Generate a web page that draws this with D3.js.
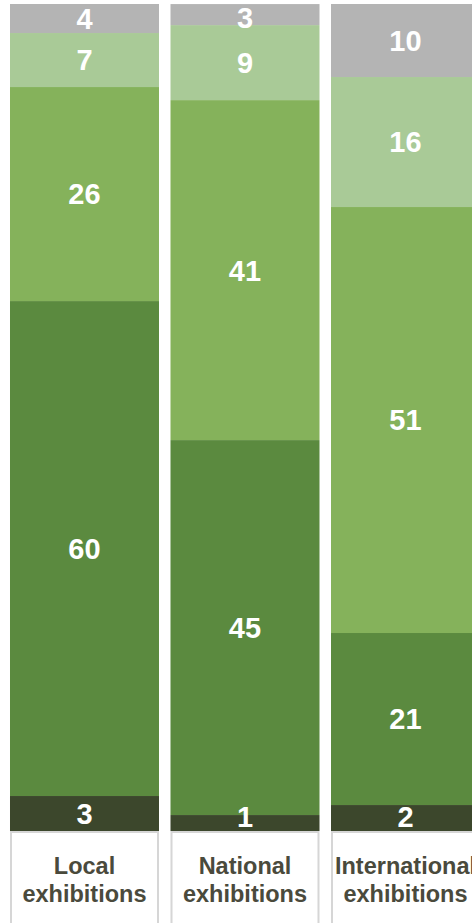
<!DOCTYPE html>
<html>
<head>
<meta charset="utf-8">
<script src="https://cdn.jsdelivr.net/npm/d3@7.9.0/dist/d3.min.js"></script>
<style>
  html, body { margin: 0; padding: 0; background: #fff; }
  svg { display: block; font-family: "Liberation Sans", Arial, sans-serif; }
</style>
</head>
<body>
<div id="chart"></div>
<script>
// categories (bottom label boxes)
const categories = ['Local exhibitions', 'National exhibitions', 'International exhibitions'];
const categoryLines = [['Local', 'exhibitions'], ['National', 'exhibitions'], ['International', 'exhibitions']];

// stack order, bottom -> top
const seriesKeys = ['level1', 'level2', 'level3', 'level4', 'level5'];
const seriesColors = ['#3c472c', '#5b8a3f', '#85b25b', '#a9ca97', '#b4b4b4'];

// segment sizes (share of 100)
const localValues = [4.23, 59.85, 25.88, 6.53, 3.51];
const nationalValues = [1.93, 45.34, 41.11, 9.07, 2.54];
const internationalValues = [3.14, 20.80, 51.51, 15.72, 8.83];

// printed labels
const localLabels = [3, 60, 26, 7, 4];
const nationalLabels = [1, 45, 41, 9, 3];
const internationalLabels = [2, 21, 51, 16, 10];

const allValues = [localValues, nationalValues, internationalValues];
const allLabels = [localLabels, nationalLabels, internationalLabels];

const width = 472;
const height = 923;
const margin = { top: 4, bottom: 92 };

const table = categories.map((c, i) => {
  const row = { category: c, idx: i };
  seriesKeys.forEach((k, j) => { row[k] = allValues[i][j]; });
  return row;
});

const stack = d3.stack().keys(seriesKeys);
const series = stack(table);

const x = d3.scaleBand()
  .domain(categories)
  .range([4.25, 485.75])
  .paddingInner(0.0717)
  .paddingOuter(0.0358);

const y = d3.scaleLinear()
  .domain([0, 100])
  .range([height - margin.bottom, margin.top]);

const color = d3.scaleOrdinal().domain(seriesKeys).range(seriesColors);

const svg = d3.select('#chart')
  .append('svg')
  .attr('width', width)
  .attr('height', height)
  .attr('viewBox', `0 0 ${width} ${height}`);

// bars
const layers = svg.append('g')
  .selectAll('g')
  .data(series)
  .join('g')
  .attr('fill', (d) => color(d.key));

layers.selectAll('rect')
  .data((d) => d)
  .join('rect')
  .attr('x', (d) => x(d.data.category))
  .attr('y', (d) => y(d[1]))
  .attr('width', x.bandwidth())
  .attr('height', (d) => y(d[0]) - y(d[1]));

// value labels
const labelG = svg.append('g')
  .attr('fill', '#fff')
  .attr('font-weight', 'bold')
  .attr('font-size', 29)
  .attr('text-anchor', 'middle');

series.forEach((s, j) => {
  labelG.selectAll(null)
    .data(s)
    .join('text')
    .attr('x', (d) => x(d.data.category) + x.bandwidth() / 2)
    .attr('y', (d) => {
      const mid = (y(d[0]) + y(d[1])) / 2;
      const yTop = y(100) + 14;
      const yBot = y(0) - 14;
      return Math.max(yTop, Math.min(yBot, mid));
    })
    .attr('dy', '0.36em')
    .text((d) => allLabels[d.data.idx][j]);
});

// category boxes
const boxes = svg.append('g')
  .selectAll('g')
  .data(categories)
  .join('g')
  .attr('transform', (d) => `translate(${x(d)}, ${y(0)})`);

boxes.append('rect')
  .attr('x', 1)
  .attr('y', 1)
  .attr('width', x.bandwidth() - 2)
  .attr('height', margin.bottom + 10)
  .attr('fill', '#fff')
  .attr('stroke', '#d6d6d6')
  .attr('stroke-width', 2);

boxes.append('text')
  .attr('text-anchor', 'middle')
  .attr('fill', '#4a4a3c')
  .attr('font-weight', 'bold')
  .attr('font-size', 23.5)
  .selectAll('tspan')
  .data((d) => categoryLines[categories.indexOf(d)])
  .join('tspan')
  .attr('x', x.bandwidth() / 2)
  .attr('y', (d, i) => 43 + i * 28)
  .text((d) => d);
</script>
</body>
</html>
